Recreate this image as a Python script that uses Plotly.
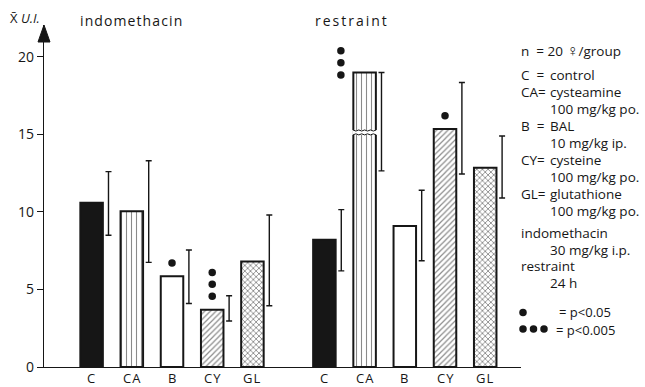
import plotly.graph_objects as go

# ---- data -------------------------------------------------------------
groups = ["indomethacin", "restraint"]
categories = ["C", "CA", "B", "CY", "GL"]

# mean ulcer index (U.I.) per treatment
mean_ui = {
    "indomethacin": [10.6, 10.05, 5.85, 3.7, 6.8],
    "restraint": [8.2, 19.0, 9.1, 15.35, 12.85],
}
# lower / upper end of each whisker
err_low = {
    "indomethacin": [8.5, 6.75, 4.1, 2.97, 3.95],
    "restraint": [6.2, 12.65, 6.85, 12.45, 10.9],
}
err_high = {
    "indomethacin": [12.6, 13.3, 7.55, 4.6, 9.8],
    "restraint": [10.15, 19.0, 11.4, 18.35, 14.9],
}
# number of significance dots (1: p<0.05, 3: p<0.005)
sig_dots = {
    "indomethacin": [0, 0, 1, 3, 0],
    "restraint": [0, 3, 0, 1, 0],
}
y_ticks = [0, 5, 10, 15, 20]

# ---- layout constants ---------------------------------------------------
W, H = 645, 387
L, R, T, B = 44, 124, 25, 20
PW, PH = W - L - R, H - T - B
GROUP_OFFSET = 5.79
BAR_W = 0.56
ERR_SHIFT = 0.42
X_RANGE = [-1.184, 10.68]
Y_RANGE = [0, 22.06]
BREAK_ABOVE = 18.0   # bars taller than this are drawn interrupted
BREAK_AT = 15.1      # where the interruption sits
INK = "#161616"
FONT = "Open Sans"
KEY_SIZE = 13.5

bar_style = {
    "C": dict(color=INK),
    "CA": dict(color="white", pattern=dict(shape="|", fgcolor=INK, bgcolor="white", size=5, solidity=0.22)),
    "B": dict(color="white"),
    "CY": dict(color="white", pattern=dict(shape="/", fgcolor=INK, bgcolor="white", size=4, solidity=0.3)),
    "GL": dict(color="white", pattern=dict(shape="x", fgcolor=INK, bgcolor="white", size=4, solidity=0.4)),
}


def pos(g, i):
    return g * GROUP_OFFSET + i


def px_x(px):
    return (px - L) / PW


def px_y(py):
    return (H - B - py) / PH


fig = go.Figure()

# bars, one trace per treatment
for i, cat in enumerate(categories):
    xs = [pos(g, i) for g in range(len(groups))]
    ys = [mean_ui[grp][i] for grp in groups]
    st = bar_style[cat]
    fig.add_trace(go.Bar(
        x=xs, y=ys, width=BAR_W,
        marker=dict(line=dict(color=INK, width=2), **st),
        showlegend=False, hoverinfo="skip",
    ))

# whiskers drawn beside each bar
ex, ey, ee = [], [], []
for g, grp in enumerate(groups):
    for i in range(len(categories)):
        lo, hi = err_low[grp][i], err_high[grp][i]
        ex.append(pos(g, i) + ERR_SHIFT)
        ey.append((lo + hi) / 2)
        ee.append((hi - lo) / 2)
fig.add_trace(go.Scatter(
    x=ex, y=ey, mode="markers",
    marker=dict(size=1, color="rgba(0,0,0,0)"),
    error_y=dict(type="data", array=ee, symmetric=True, color=INK, thickness=1.4, width=3),
    showlegend=False, hoverinfo="skip",
))

# significance dots
dx, dy = [], []
for g, grp in enumerate(groups):
    for i in range(len(categories)):
        m = mean_ui[grp][i]
        for k in range(sig_dots[grp][i]):
            if m > BREAK_ABOVE:
                dx.append(pos(g, i) - 0.59)
                dy.append(m - 0.16 + k * 0.78)
            else:
                dx.append(pos(g, i))
                dy.append(m + 0.86 + k * 0.77)
fig.add_trace(go.Scatter(
    x=dx, y=dy, mode="markers",
    marker=dict(size=7.5, color=INK),
    showlegend=False, hoverinfo="skip", cliponaxis=False,
))

shapes = []
# interruption on bars that exceed the break threshold
for g, grp in enumerate(groups):
    for i in range(len(categories)):
        if mean_ui[grp][i] > BREAK_ABOVE:
            c = pos(g, i)
            x0, x1 = c - BAR_W / 2 - 0.03, c + BAR_W / 2 + 0.03
            y0, y1 = BREAK_AT - 0.13, BREAK_AT + 0.19
            shapes.append(dict(type="rect", xref="x", yref="y", x0=x0, x1=x1, y0=y0, y1=y1,
                               fillcolor="white", line=dict(width=0), layer="above"))
            n = 8
            for base, sgn in ((y0, 1), (y1, -1)):
                pts = []
                for j in range(n + 1):
                    xx = x0 + 0.02 + (x1 - x0 - 0.04) * j / n
                    yy = base + (0.07 if j % 2 else 0.0) * sgn
                    pts.append(f"{xx:.4f},{yy:.4f}")
                shapes.append(dict(type="path", xref="x", yref="y", path="M" + " L".join(pts),
                                   line=dict(color=INK, width=1), layer="above"))

# arrow head on top of the y axis
shapes.append(dict(type="path", xref="paper", yref="paper", xsizemode="pixel", ysizemode="pixel",
                   xanchor=0, yanchor=1, path="M-6,-17 L0,0 L6,-17 Z",
                   fillcolor=INK, line=dict(color=INK, width=1), layer="above"))

ann = []


def text(px, py, s, size=KEY_SIZE, anchor="left"):
    ann.append(dict(x=px_x(px), y=px_y(py), xref="paper", yref="paper", text=s, showarrow=False,
                    xanchor=anchor, yanchor="middle", font=dict(family=FONT, size=size, color=INK)))


def key_dot(px, py, d=7.5):
    shapes.append(dict(type="circle", xref="paper", yref="paper", xsizemode="pixel", ysizemode="pixel",
                       xanchor=px_x(px), yanchor=px_y(py), x0=-d / 2, x1=d / 2, y0=-d / 2, y1=d / 2,
                       fillcolor=INK, line=dict(width=0)))


# axis title and group titles
text(8, 18, "X\u0304 <i>U.I.</i>", size=13)
text(78, 21, '<span style="letter-spacing:1.1px">indomethacin</span>', size=14)
text(313, 21, '<span style="letter-spacing:2px">restraint</span>', size=14)

# category labels under the bars
for g in range(len(groups)):
    for i, cat in enumerate(categories):
        ann.append(dict(x=pos(g, i), y=px_y(378), xref="x", yref="paper",
                        text=f'<span style="letter-spacing:1px">{cat}</span>', showarrow=False,
                        xanchor="center", yanchor="middle", font=dict(family=FONT, size=13, color=INK)))

# key on the right
text(519, 50, 'n\u00a0 = 20 <span style="font-size:16px">\u2640</span>/group')
key = [("C\u00a0 =", "control", ""), ("CA=", "cysteamine", "100 mg/kg po."),
       ("B\u00a0 =", "BAL", "10 mg/kg ip."), ("CY=", "cysteine", "100 mg/kg po."),
       ("GL=", "glutathione", "100 mg/kg po.")]
yy = 75
for abbr, name, dose in key:
    text(519, yy, abbr)
    text(548, yy, name)
    yy += 17.4
    if dose:
        text(548, yy - 0.8, dose)
        yy += 16.6
text(519, 233, "indomethacin")
text(548, 249.5, "30 mg/kg i.p.")
text(519, 265.5, "restraint")
text(548, 283, "24 h")
key_dot(523, 312.5)
text(557, 312, "= p<0.05", size=13)
for k in range(3):
    key_dot(523 + k * 10.5, 329)
text(554, 329.5, "= p<0.005", size=13)

fig.update_layout(
    width=W, height=H,
    margin=dict(l=L, r=R, t=T, b=B, pad=0),
    paper_bgcolor="white", plot_bgcolor="white",
    barmode="overlay",
    shapes=shapes, annotations=ann,
    font=dict(family=FONT, color=INK),
    xaxis=dict(range=X_RANGE, showticklabels=False, ticks="", showline=True,
               linecolor=INK, linewidth=1.4, showgrid=False, zeroline=False,
               automargin=False, fixedrange=True),
    yaxis=dict(range=Y_RANGE, tickvals=y_ticks, showline=True, linecolor=INK, linewidth=1.4,
               ticks="outside", ticklen=6, tickcolor=INK, tickwidth=1.2, showgrid=False, zeroline=False,
               tickfont=dict(family=FONT, size=14, color=INK), automargin=False, fixedrange=True),
)

fig.write_html("out.html")
